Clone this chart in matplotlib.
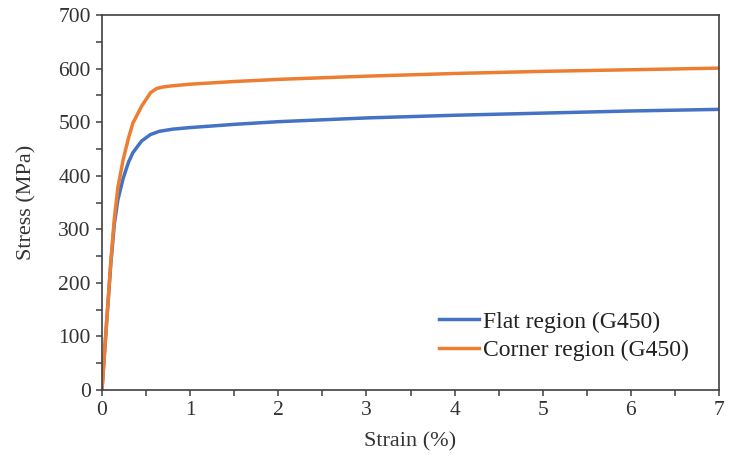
import matplotlib.pyplot as plt
from matplotlib.ticker import MultipleLocator

# stress-strain data
flat_strain = [0, 0.05, 0.1, 0.14, 0.18, 0.24, 0.3, 0.35, 0.45, 0.55, 0.65, 0.8, 1, 1.5, 2, 3, 4, 5, 6, 7]
flat_stress = [0, 120, 235, 310, 355, 395, 425, 443, 465, 477, 483, 487, 490, 496, 501, 508, 513, 517, 521, 524]

corner_strain = [0, 0.05, 0.1, 0.14, 0.18, 0.24, 0.3, 0.35, 0.45, 0.55, 0.62, 0.7, 0.8, 1, 1.5, 2, 3, 4, 5, 6, 7]
corner_stress = [0, 120, 240, 320, 378, 430, 470, 498, 530, 555, 563, 566, 568, 571, 576, 580, 586, 591, 595, 598, 601]

labels = ["Flat region (G450)", "Corner region (G450)"]

plt.rcParams['font.family'] = ['Liberation Serif', 'DejaVu Serif']

fig = plt.figure(figsize=(7.39, 4.58), dpi=100)
ax = fig.add_axes([0.138, 0.1485, 0.835, 0.8185])

ax.plot(flat_strain, flat_stress, color='#4472C4', lw=2.5, label=labels[0])
ax.plot(corner_strain, corner_stress, color='#ED7D31', lw=2.5, label=labels[1])

ax.set_xlim(0, 7)
ax.set_ylim(0, 700)
ax.xaxis.set_major_locator(MultipleLocator(1))
ax.xaxis.set_minor_locator(MultipleLocator(0.5))
ax.yaxis.set_major_locator(MultipleLocator(100))
ax.yaxis.set_minor_locator(MultipleLocator(50))

for s in ax.spines.values():
    s.set_color('#404040')
    s.set_linewidth(1.2)
ax.tick_params(which='both', direction='out', color='#404040', width=1.1,
               labelsize=15.5, labelcolor='#333333', length=4.5)

ax.set_xlabel("Strain (%)", fontsize=16, labelpad=9, color='#333333')
ax.set_ylabel("Stress (MPa)", fontsize=16, labelpad=16, color='#333333')

ax.legend(loc='lower right', bbox_to_anchor=(0.985, 0.02), frameon=False, fontsize=17,
          handlelength=1.7, handletextpad=0.15, labelspacing=0.3, labelcolor='#222222')

fig.savefig("out.png", dpi=100)
